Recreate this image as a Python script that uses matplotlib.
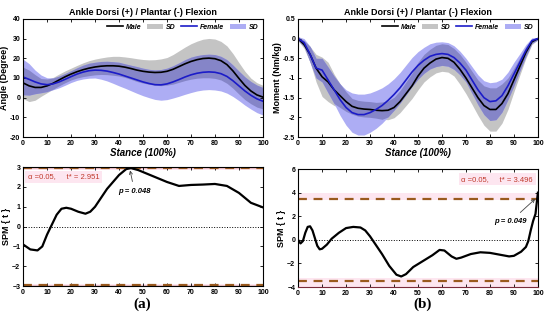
import matplotlib
matplotlib.use("Agg")
import matplotlib.pyplot as plt
from matplotlib.lines import Line2D
from matplotlib.patches import Patch
import numpy as np

plt.rcParams['font.family'] = ['Liberation Sans', 'DejaVu Sans']

# ---------------- data ----------------
stance = [0, 2.5, 5, 7.5, 10, 12.5, 15, 17.5, 20, 22.5, 25, 27.5, 30, 32.5, 35, 37.5, 40, 42.5,
          45, 47.5, 50, 52.5, 55, 57.5, 60, 62.5, 65, 67.5, 70, 72.5, 75, 77.5, 80, 82.5, 85,
          87.5, 90, 92.5, 95, 97.5, 100]

angle_male = [7.5, 6.0, 5.2, 5.2, 6.0, 7.3, 9.0, 10.6, 12.0, 13.2, 14.2, 15.0, 15.6, 16.0, 16.2,
              16.2, 16.0, 15.5, 14.8, 14.0, 13.4, 13.0, 12.8, 12.9, 13.4, 14.4, 15.8, 17.2, 18.4,
              19.3, 19.9, 20.1, 19.8, 18.8, 16.8, 13.6, 9.8, 6.2, 3.4, 1.4, 0.3]
angle_male_sd = [8.0, 8.0, 6.5, 4.5, 3.5, 3.0, 3.0, 3.0, 3.0, 3.2, 3.5, 3.8, 4.0, 4.2, 4.5, 4.8,
                 5.0, 5.2, 5.5, 5.8, 6.0, 6.2, 6.5, 6.8, 7.0, 7.5, 8.0, 8.5, 9.0, 9.4, 9.8, 10.0,
                 10.0, 9.8, 9.5, 8.8, 8.0, 7.2, 6.5, 6.2, 6.0]
angle_female = [10.5, 9.3, 8.0, 7.0, 6.6, 7.0, 8.0, 9.3, 10.7, 12.0, 13.0, 13.7, 14.0, 13.9, 13.5,
                12.8, 12.0, 11.0, 10.0, 9.0, 8.0, 7.2, 6.6, 6.5, 7.0, 8.0, 9.2, 10.5, 11.6, 12.4,
                12.9, 13.1, 12.9, 12.2, 10.8, 8.6, 6.0, 3.4, 1.2, -0.6, -1.8]
angle_female_sd = [9.0, 8.0, 6.0, 4.5, 3.5, 3.0, 3.0, 3.0, 3.0, 3.2, 3.5, 3.8, 4.0, 4.5, 5.0, 5.5,
                   6.0, 6.2, 6.5, 6.8, 7.0, 7.2, 7.5, 7.8, 8.0, 8.2, 8.5, 8.8, 9.0, 9.0, 9.0, 9.0,
                   9.0, 8.8, 8.5, 8.0, 7.5, 7.2, 7.0, 7.0, 7.0]

moment_male = [0.0, -0.15, -0.4, -0.75, -0.97, -1.1, -1.3, -1.45, -1.6, -1.72, -1.77, -1.79, -1.8,
               -1.82, -1.83, -1.82, -1.75, -1.6, -1.4, -1.2, -0.95, -0.75, -0.62, -0.52, -0.48,
               -0.5, -0.6, -0.78, -1.0, -1.25, -1.5, -1.7, -1.8, -1.8, -1.65, -1.4, -1.05, -0.7,
               -0.35, -0.08, 0.0]
moment_male_sd = [0.05, 0.1, 0.2, 0.35, 0.5, 0.5, 0.4, 0.3, 0.25, 0.2, 0.2, 0.2, 0.2, 0.2, 0.22,
                  0.24, 0.26, 0.28, 0.3, 0.32, 0.35, 0.35, 0.35, 0.35, 0.35, 0.35, 0.35, 0.38, 0.4,
                  0.42, 0.45, 0.5, 0.55, 0.55, 0.5, 0.4, 0.3, 0.22, 0.15, 0.07, 0.03]
moment_female = [0.0, -0.1, -0.4, -0.75, -0.8, -1.05, -1.3, -1.55, -1.75, -1.88, -1.93, -1.93,
                 -1.88, -1.8, -1.7, -1.57, -1.42, -1.25, -1.05, -0.85, -0.68, -0.55, -0.45, -0.4,
                 -0.38, -0.4, -0.48, -0.62, -0.8, -1.05, -1.3, -1.5, -1.6, -1.58, -1.45, -1.2,
                 -0.9, -0.6, -0.3, -0.05, 0.0]
moment_female_sd = [0.05, 0.1, 0.2, 0.25, 0.3, 0.33, 0.35, 0.4, 0.45, 0.5, 0.52, 0.52, 0.5, 0.48,
                    0.45, 0.42, 0.4, 0.39, 0.38, 0.37, 0.35, 0.33, 0.32, 0.31, 0.3, 0.3, 0.3, 0.3,
                    0.3, 0.34, 0.38, 0.43, 0.48, 0.48, 0.42, 0.35, 0.3, 0.22, 0.15, 0.07, 0.03]

spm_a_x = [0, 3, 6, 8, 10, 12, 14, 16, 18, 20, 23, 26, 28, 30, 35, 40, 43, 45, 48, 50, 55, 60, 65, 70, 75, 80, 85, 90, 95, 100]
spm_a_t = [-0.9, -1.15, -1.2, -1.0, -0.4, 0.1, 0.6, 0.9, 0.95, 0.9, 0.75, 0.65, 0.75, 1.0, 1.9, 2.6, 2.9, 2.95, 2.85, 2.75, 2.5, 2.25, 2.05, 2.1, 2.12, 2.15, 2.05, 1.7, 1.2, 0.97]
spm_a_thresh = 2.951
spm_a_p = "p = 0.048"

spm_b_x = [0, 1, 2, 3, 4, 5, 6, 8, 9, 10, 12, 14, 17, 20, 23, 26, 28, 30, 32, 35, 38, 41, 43, 45, 48, 52, 56, 59, 61, 64, 66, 68, 72, 76, 80, 84, 88, 90, 93, 95, 96, 97, 98, 99, 100]
spm_b_t = [0.0, -0.3, -0.1, 0.6, 1.1, 1.15, 0.8, -0.5, -0.8, -0.75, -0.4, 0.1, 0.6, 1.0, 1.1, 1.05, 0.8, 0.3, -0.3, -1.2, -2.2, -2.95, -3.1, -2.9, -2.3, -1.8, -1.3, -0.85, -0.9, -1.4, -1.6, -1.5, -1.2, -1.05, -1.1, -1.25, -1.4, -1.35, -1.0, -0.6, -0.1, 0.8, 1.6, 2.2, 4.0]
spm_b_thresh = 3.496
spm_b_p = "p = 0.049"

xticks = list(range(0, 101, 10))

# ---------------- styling ----------------
GRAY = '#c4c4c4'
BLUE_BAND = '#adadf4'
OVERLAP = '#8585c8'
BLUE_LINE = '#1c1cc8'
THR = '#9a5a1e'
PINK = '#fde6f0'


def style(ax):
    ax.tick_params(direction='in', top=True, right=True, length=2.5, width=0.6,
                   labelsize=5, pad=2)
    for lab in ax.get_xticklabels() + ax.get_yticklabels():
        lab.set_fontweight('bold')
    for s in ax.spines.values():
        s.set_linewidth(0.8)


fig = plt.figure(figsize=(5.5, 3.27), dpi=100)
ax1 = fig.add_axes([0.042, 0.581, 0.436, 0.361])
ax2 = fig.add_axes([0.542, 0.581, 0.436, 0.361])
ax3 = fig.add_axes([0.042, 0.125, 0.436, 0.364])
ax4 = fig.add_axes([0.542, 0.122, 0.436, 0.361])


def top_panel(ax, male, msd, female, fsd, ylim, yticks, yticklabels, ylabel):
    x = np.array(stance)
    m = np.array(male); ms = np.array(msd)
    f = np.array(female); fs = np.array(fsd)
    ax.fill_between(x, m - ms, m + ms, color=GRAY, lw=0)
    ax.fill_between(x, f - fs, f + fs, color=BLUE_BAND, lw=0)
    lo = np.maximum(m - ms, f - fs)
    hi = np.minimum(m + ms, f + fs)
    ax.fill_between(x, lo, hi, where=hi > lo, interpolate=True, color=OVERLAP, lw=0)
    ax.plot(x, m, color='black', lw=1.2)
    ax.plot(x, f, color=BLUE_LINE, lw=1.2)
    ax.set_xlim(0, 100)
    ax.set_ylim(*ylim)
    ax.set_xticks(xticks)
    ax.set_yticks(yticks)
    ax.set_yticklabels(yticklabels)
    ax.set_title('Ankle Dorsi (+) / Plantar (-) Flexion', fontsize=6.5, fontweight='bold', pad=3)
    ax.set_xlabel('Stance (100%)', fontsize=7, fontweight='bold', fontstyle='italic', labelpad=1)
    ax.set_ylabel(ylabel, fontsize=6.5, fontweight='bold', labelpad=1)
    handles = [Line2D([], [], color='black', lw=1.2),
               Patch(facecolor=GRAY, lw=0),
               Line2D([], [], color=BLUE_LINE, lw=1.2),
               Patch(facecolor=BLUE_BAND, lw=0)]
    ax.legend(handles, ['Male', 'SD', 'Female', 'SD'], ncol=4, loc='upper right',
              frameon=False, prop=dict(size=5, weight='bold', style='italic'),
              handlelength=2.3, handletextpad=0.4, columnspacing=0.8,
              borderaxespad=0.3)
    style(ax)


top_panel(ax1, angle_male, angle_male_sd, angle_female, angle_female_sd,
          (-20, 40), list(range(-20, 41, 10)), [str(v) for v in range(-20, 41, 10)],
          'Angle (Degree)')
mt = [0.5, 0, -0.5, -1, -1.5, -2, -2.5]
top_panel(ax2, moment_male, moment_male_sd, moment_female, moment_female_sd,
          (-2.5, 0.5), mt, ['0.5', '0', '-0.5', '-1', '-1.5', '-2', '-2.5'],
          'Moment (Nm/kg)')


def spm_panel(ax, x, t, thr, ylim, yticks, spans, txt_xy, txt_ha, ptxt, p_xy, arrow_xy):
    for lo, hi in spans:
        ax.axhspan(lo, hi, color=PINK, lw=0, zorder=0)
    ax.axhline(0, color='black', lw=0.7, ls=':', zorder=1)
    ax.axhline(thr, color=THR, lw=1.6, ls=(0, (4, 3)), zorder=2)
    ax.axhline(-thr, color=THR, lw=1.6, ls=(0, (4, 3)), zorder=2)
    ax.plot(x, t, color='black', lw=1.6, zorder=3)
    ax.set_xlim(0, 100)
    ax.set_ylim(*ylim)
    ax.set_xticks(xticks)
    ax.set_yticks(yticks)
    ax.set_ylabel('SPM { t }', fontsize=6.5, fontweight='bold', labelpad=1)
    ax.text(txt_xy[0], txt_xy[1], '\u03b1 =0.05,     t* = %.3f' % thr, fontsize=5.5,
            color='#c0392b', ha=txt_ha, va='center',
            bbox=dict(facecolor=PINK, edgecolor='none', pad=2), zorder=4)
    ax.annotate(ptxt, xy=arrow_xy, xytext=p_xy, fontsize=5.5, fontweight='bold',
                fontstyle='italic', ha='center', va='center',
                arrowprops=dict(arrowstyle='->', color='#444444', lw=0.6,
                                shrinkA=3, shrinkB=1), zorder=5)
    style(ax)


spm_panel(ax3, spm_a_x, spm_a_t, spm_a_thresh, (-3, 3), list(range(-3, 4)),
          [(2.87, 3.0), (-3.0, -2.87)], (2, 2.5), 'left', spm_a_p, (46.5, 1.75), (44.5, 2.9))
ax3.axhline(3, color='#d03030', lw=1.0, zorder=1)
ax3.axhline(-3, color='#b04040', lw=1.0, zorder=1)
spm_panel(ax4, spm_b_x, spm_b_t, spm_b_thresh, (-4, 6), list(range(-4, 7, 2)),
          [(3.4, 3.95), (-4.0, -3.25)], (98, 5.15), 'right', spm_b_p, (88.5, 1.55), (99.3, 3.55))
ax4.spines['bottom'].set_color('#7a2a3a')

fig.text(0.258, 0.07, '(a)', fontsize=11, fontweight='bold', family='Liberation Serif',
         ha='center', va='center')
fig.text(0.768, 0.07, '(b)', fontsize=11, fontweight='bold', family='Liberation Serif',
         ha='center', va='center')

fig.savefig('out.png', dpi=100)
